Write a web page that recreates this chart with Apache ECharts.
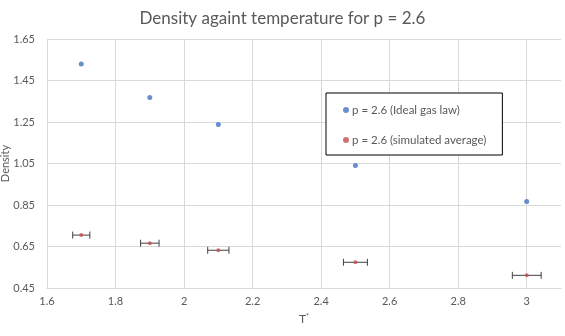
<!DOCTYPE html>
<html>
<head>
<meta charset="utf-8">
<script src="https://cdn.jsdelivr.net/npm/echarts@6/dist/echarts.min.js"></script>
<style>
html,body{margin:0;padding:0;background:#fff;}
#chart{width:565px;height:336px;}
</style>
</head>
<body>
<div id="chart"></div>
<script>
// Data
var temperatures = [1.7, 1.9, 2.1, 2.5, 3.0];
var idealDensity = [1.53, 1.368, 1.238, 1.04, 0.867];
var simDensity = [0.705, 0.666, 0.632, 0.574, 0.511];
var tempError = [0.025, 0.027, 0.031, 0.035, 0.042];
var seriesNames = ['p = 2.6 (Ideal gas law)', 'p = 2.6 (simulated average)'];
var titleText = 'Density againt temperature for p = 2.6';

var FONT = 'Lato, "Liberation Sans", sans-serif';
var TXT = '#595959';

var idealData = temperatures.map(function (t, i) { return [t, idealDensity[i]]; });
var simData = temperatures.map(function (t, i) { return [t, simDensity[i]]; });
var errData = temperatures.map(function (t, i) { return [t, simDensity[i], tempError[i]]; });

var chart = echarts.init(document.getElementById('chart'), null, {renderer: 'canvas'});
chart.setOption({
  animation: false,
  backgroundColor: '#fff',
  textStyle: {fontFamily: FONT},
  title: {
    text: titleText,
    left: 'center',
    top: 5,
    textStyle: {fontFamily: FONT, fontSize: 17, fontWeight: 'normal', color: TXT}
  },
  grid: {left: 47, right: 4, top: 39, bottom: 48, containLabel: false, outerBoundsMode: 'none'},
  legend: {
    data: seriesNames,
    orient: 'vertical',
    left: 326, top: 93,
    padding: [11, 16, 9, 17],
    itemGap: 18,
    itemWidth: 6, itemHeight: 6,
    icon: 'circle',
    borderColor: '#000', borderWidth: 1,
    backgroundColor: '#fff',
    textStyle: {fontFamily: FONT, fontSize: 11.5, color: TXT, padding: [0, 0, 0, -2]}
  },
  xAxis: {
    type: 'value',
    min: 1.6, max: 3.1, interval: 0.2,
    name: '{t|T}{s|*}',
    nameLocation: 'middle',
    nameGap: 25,
    nameMoveOverlap: false,
    nameTextStyle: {
      rich: {
        t: {fontFamily: FONT, fontSize: 12, color: TXT},
        s: {fontFamily: FONT, fontSize: 7, color: TXT, verticalAlign: 'top', padding: [0, 0, 6, 0]}
      }
    },
    axisLine: {show: true, lineStyle: {color: '#D9D9D9', width: 1}},
    axisTick: {show: false},
    axisLabel: {
      color: TXT, fontSize: 11, fontFamily: FONT, margin: 8,
      formatter: function (v) { return v > 3.05 ? '' : String(Math.round(v * 10) / 10); }
    },
    splitLine: {show: true, showMaxLine: false, lineStyle: {color: '#D9D9D9', width: 1}}
  },
  yAxis: {
    type: 'value',
    min: 0.45, max: 1.65, interval: 0.2,
    name: 'Density',
    nameLocation: 'middle',
    nameGap: 36,
    nameMoveOverlap: false,
    nameTextStyle: {fontFamily: FONT, fontSize: 11, color: TXT},
    axisLine: {show: false},
    axisTick: {show: false},
    axisLabel: {
      color: TXT, fontSize: 11, fontFamily: FONT, margin: 12,
      formatter: function (v) { return v.toFixed(2); }
    },
    splitLine: {show: true, lineStyle: {color: '#D9D9D9', width: 1}}
  },
  series: [
    {
      name: seriesNames[0],
      type: 'scatter',
      data: idealData,
      symbol: 'circle',
      symbolSize: 5,
      itemStyle: {color: '#4472C4'},
      z: 3
    },
    {
      name: 'errorbars',
      type: 'custom',
      data: errData,
      z: 2,
      silent: true,
      renderItem: function (params, api) {
        var x = api.value(0), y = api.value(1), e = api.value(2);
        var p1 = api.coord([x - e, y]);
        var p2 = api.coord([x + e, y]);
        var c = 3.5;
        var st = {stroke: '#404040', lineWidth: 1};
        return {
          type: 'group',
          children: [
            {type: 'line', shape: {x1: p1[0], y1: p1[1], x2: p2[0], y2: p2[1]}, style: st},
            {type: 'line', shape: {x1: p1[0], y1: p1[1] - c, x2: p1[0], y2: p1[1] + c}, style: st},
            {type: 'line', shape: {x1: p2[0], y1: p2[1] - c, x2: p2[0], y2: p2[1] + c}, style: st}
          ]
        };
      }
    },
    {
      name: seriesNames[1],
      type: 'scatter',
      data: simData,
      symbol: 'circle',
      symbolSize: 4,
      itemStyle: {color: '#C0504D'},
      z: 4
    }
  ]
});
</script>
</body>
</html>
